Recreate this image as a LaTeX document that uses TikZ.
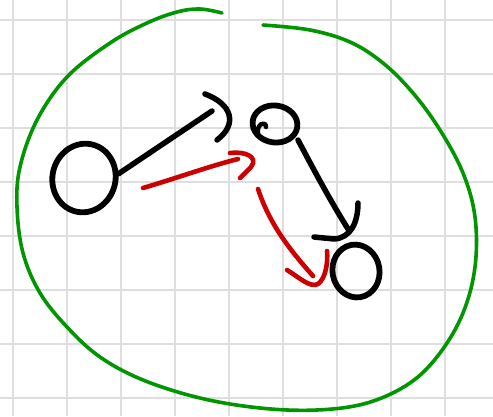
\documentclass[tikz,border=0pt]{standalone}
\usetikzlibrary{shapes.geometric}
\definecolor{gridgray}{RGB}{222,222,222}
\definecolor{inkred}{RGB}{204,0,0}
\definecolor{inkgreen}{RGB}{0,150,0}
\begin{document}
\begin{tikzpicture}[x=1pt,y=-1pt,
  gridline/.style={draw=gridgray,line width=1.8pt},
  blob/.style={draw=black,line width=5.8pt,ellipse,inner sep=0pt},
  ink/.style={draw=black,line width=5.5pt,line cap=round,line join=round},
  redink/.style={draw=inkred,line width=4.6pt,line cap=round,line join=round},
  greenink/.style={draw=inkgreen,line width=3.6pt,line cap=round,line join=round}]
\useasboundingbox (0,0) rectangle (493,416);
\fill[white] (0,0) rectangle (493,416);
% grid
\foreach \gx in {13,67,121,175,229,283,337,391,445} \draw[gridline] (\gx,0) -- (\gx,416);
\foreach \gy in {20,74,128,182,236,290,344,398} \draw[gridline] (0,\gy) -- (493,\gy);
% green loop
\draw[greenink] plot[smooth,tension=0.6] coordinates {(222,13) (200,9) (177,12) (147,23) (110,43) (67,77) (37,120) (20,167) (17,207) (23,253) (40,293) (67,327) (100,357) (143,380) (200,398) (260,408) (317,410) (367,403) (410,383) (440,353) (463,313) (475,267) (475,217) (463,173) (440,130) (413,93) (383,63) (350,42) (310,30) (263,25)};
% nodes
\node[blob, minimum width=63pt, minimum height=69pt, rotate=-15] (n1) at (84,178) {};
\node[blob, minimum width=45pt, minimum height=37pt, rotate=-8] (n2) at (275,124) {};
\node[blob, minimum width=47pt, minimum height=53pt, rotate=10] (n3) at (356,271) {};
% curl inside n2
\draw[ink, line width=4.5pt] (258,134) .. controls (256,124) and (266,120) .. (266,127);
% coordinates
\coordinate (a1) at (212,111);
\coordinate (h1a) at (205,94);
\coordinate (h1b) at (217,140);
\coordinate (a2s) at (298,140);
\coordinate (a2) at (348,229);
\coordinate (h2a) at (358,203);
\coordinate (h2b) at (314,237);
\coordinate (r1s) at (143,188);
\coordinate (r1) at (238,159);
\coordinate (rh1a) at (230,153);
\coordinate (rh1b) at (240,178);
\coordinate (r2s) at (258,189);
\coordinate (r2) at (313,276);
\coordinate (rh2a) at (287,270);
\coordinate (rh2b) at (327,251);
% black connectors
\draw[ink] (n1.22) -- (a1);
\draw[ink] (h1a) .. controls (232,104) and (238,124) .. (h1b);
\draw[ink] (a2s) .. controls (316,174) and (330,200) .. (a2);
\draw[ink] (h2a) .. controls (358,222) and (351,238) .. (334,239) -- (h2b);
% red connectors
\draw[redink] (r1s) .. controls (180,177) and (210,166) .. (r1);
\draw[redink] (rh1a) .. controls (245,151) and (259,157) .. (251,167) -- (rh1b);
\draw[redink] (r2s) .. controls (270,225) and (290,250) .. (r2);
\draw[redink] (rh2a) .. controls (300,278) and (310,288) .. (318,284) .. controls (326,278) and (328,262) .. (rh2b);
\end{tikzpicture}
\end{document}
